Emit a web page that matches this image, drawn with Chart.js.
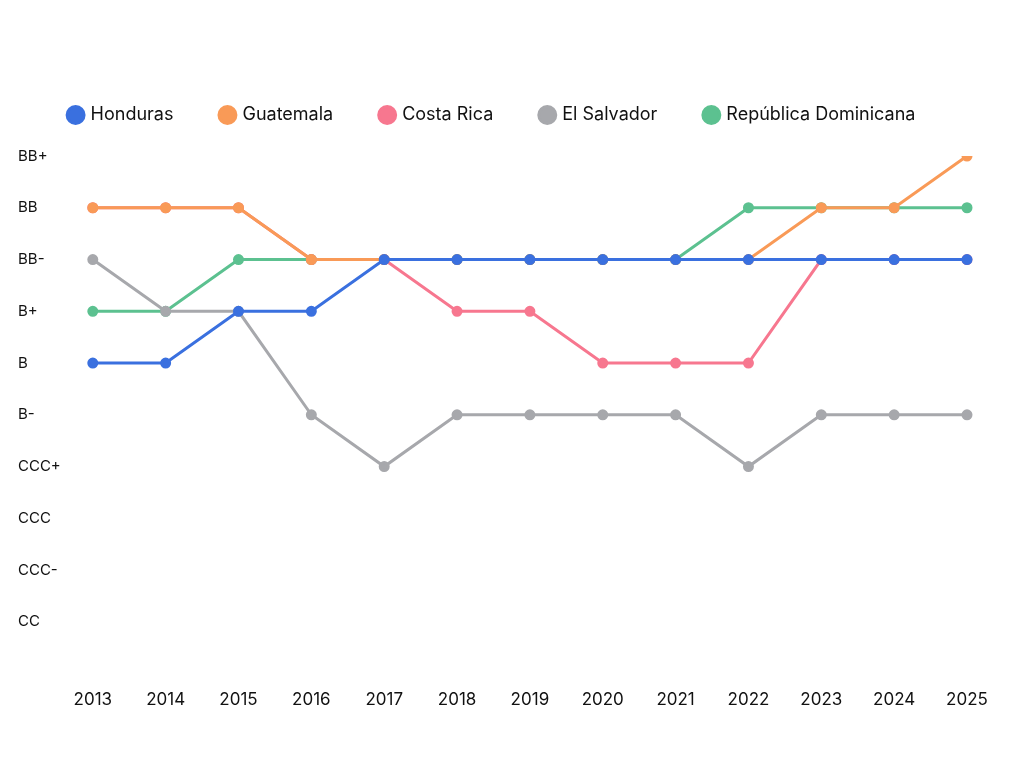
<!DOCTYPE html>
<html>
<head>
<meta charset="utf-8">
<script src="https://cdn.jsdelivr.net/npm/chart.js@4"></script>
<style>
  html, body { margin: 0; padding: 0; background: #fff; }
  #wrap { width: 1024px; height: 768px; }
</style>
</head>
<body>
<div id="wrap"><canvas id="chart"></canvas></div>
<script>
const years = ['2013','2014','2015','2016','2017','2018','2019','2020','2021','2022','2023','2024','2025']
// rating index: CC=1 ... BB+=10
const ratings = ['', 'CC', 'CCC-', 'CCC', 'CCC+', 'B-', 'B', 'B+', 'BB-', 'BB', 'BB+']

const dominicana = [7, 7, 8, 8, 8, 8, 8, 8, 8, 9, 9, 9, 9]
const salvador   = [8, 7, 7, 5, 4, 5, 5, 5, 5, 4, 5, 5, 5]
const costaRica  = [9, 9, 9, 8, 8, 7, 7, 6, 6, 6, 8, 8, 8]
const guatemala  = [9, 9, 9, 8, 8, 8, 8, 8, 8, 8, 9, 9, 10]
const honduras   = [6, 6, 7, 7, 8, 8, 8, 8, 8, 8, 8, 8, 8]

function series(label, data, color, order) {
  return {
    label: label,
    data: data,
    order: order,
    borderColor: color,
    backgroundColor: color,
    borderWidth: 3,
    pointRadius: 4,
    pointHoverRadius: 4,
    tension: 0
  }
}

Chart.defaults.font.family = 'Inter, "Open Sans", sans-serif'
Chart.defaults.color = '#111'

const legendSpace = {
  id: 'legendSpace',
  beforeInit(chart) {
    const orig = chart.legend.fit
    chart.legend.fit = function () {
      orig.bind(chart.legend)()
      this.height += 22
    }
  }
}

new Chart(document.getElementById('chart'), {
  type: 'line',
  data: {
    labels: years,
    datasets: [
      series('República Dominicana', dominicana, '#5cc190', 5),
      series('El Salvador', salvador, '#a7a8ac', 4),
      series('Costa Rica', costaRica, '#f7778f', 3),
      series('Guatemala', guatemala, '#f99a57', 2),
      series('Honduras', honduras, '#3a70df', 1)
    ]
  },
  options: {
    responsive: true,
    maintainAspectRatio: false,
    animation: false,
    layout: { padding: { left: 18, right: 57, top: 58, bottom: 50 } },
    plugins: {
      legend: {
        labels: {
          usePointStyle: true,
          pointStyle: 'circle',
          boxWidth: 12,
          boxHeight: 12,
          padding: 48,
          font: { size: 18 }
        }
      },
      tooltip: { enabled: false }
    },
    scales: {
      x: {
        offset: false,
        grid: { display: false },
        border: { display: false },
        ticks: { font: { size: 17 }, padding: 8 }
      },
      y: {
        min: 0,
        max: 10,
        grid: { display: false },
        border: { display: false },
        ticks: {
          stepSize: 1,
          font: { size: 15 },
          crossAlign: 'far',
          padding: 12,
          callback: v => ratings[v]
        }
      }
    }
  },
  plugins: [legendSpace]
})
</script>
</body>
</html>
